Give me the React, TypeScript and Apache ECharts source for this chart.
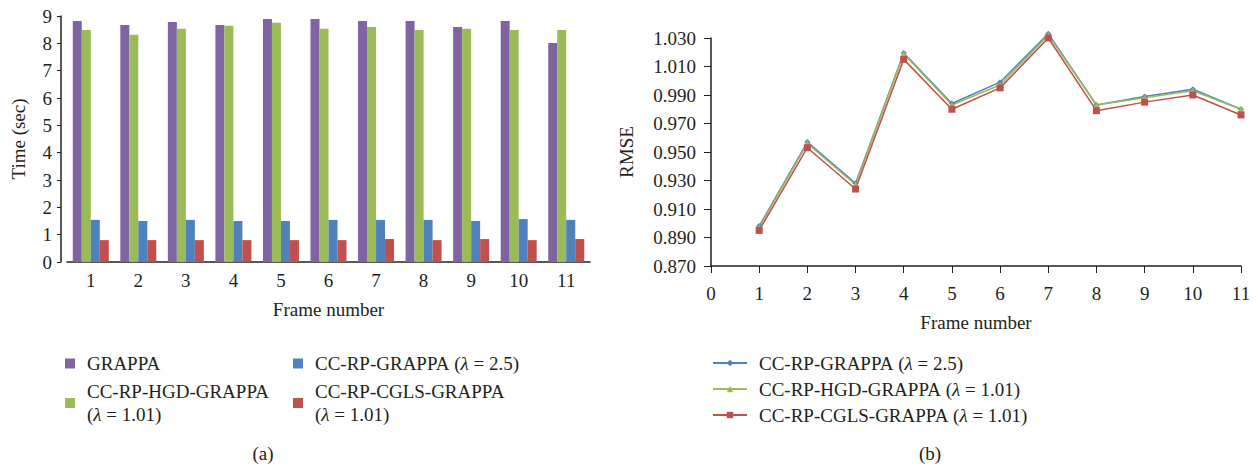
import React, { useEffect, useRef } from "react";
import * as echarts from "echarts";

const frames = ["1", "2", "3", "4", "5", "6", "7", "8", "9", "10", "11"];
const grappaTime = [8.82, 8.67, 8.78, 8.67, 8.89, 8.89, 8.82, 8.82, 8.6, 8.82, 8.01];
const hgdTime = [8.49, 8.31, 8.53, 8.64, 8.75, 8.53, 8.6, 8.49, 8.53, 8.49, 8.49];
const ccrpTime = [1.54, 1.5, 1.54, 1.5, 1.5, 1.54, 1.54, 1.54, 1.5, 1.57, 1.54];
const cglsTime = [0.8, 0.8, 0.8, 0.8, 0.8, 0.8, 0.84, 0.8, 0.84, 0.8, 0.84];

const frameNums = [1, 2, 3, 4, 5, 6, 7, 8, 9, 10, 11];
const rmseCcrp = [0.898, 0.957, 0.928, 1.0195, 0.984, 0.999, 1.033, 0.983, 0.989, 0.994, 0.98];
const rmseHgd = [0.897, 0.956, 0.927, 1.019, 0.983, 0.997, 1.032, 0.983, 0.988, 0.993, 0.98];
const rmseCgls = [0.895, 0.953, 0.924, 1.015, 0.98, 0.995, 1.03, 0.979, 0.985, 0.99, 0.976];

const N_GRAPPA = "GRAPPA";
const N_HGD = "CC-RP-HGD-GRAPPA (λ = 1.01)";
const N_CCRP = "CC-RP-GRAPPA (λ = 2.5)";
const N_CGLS = "CC-RP-CGLS-GRAPPA (λ = 1.01)";

const C_PURPLE = "#8064A2";
const C_GREEN = "#9BBB59";
const C_BLUE = "#4F81BD";
const C_RED = "#C0504D";

const FONT = "Liberation Serif";
const INK = "#231f20";
const FS = 19;

const txt = { fontFamily: FONT, fontSize: FS, color: INK };

// turn a legend name into rich text with an italic lambda, optionally wrapped before "("
const richName = (name: string, wrap: boolean) => {
  const idx = name.indexOf(" (");
  if (idx < 0) return `{n|${name}}`;
  const head = name.slice(0, idx);
  const tail = name.slice(idx + 1); // "(λ = x)"
  const parts = tail.split("λ");
  const tailRich = `{n|${parts[0]}}{i|λ}{n|${parts[1]}}`;
  return wrap ? `{n|${head}}\n${tailRich}` : `{n|${head} }${tailRich}`;
};

const richStyles = (lh: number) => ({
  n: { fontFamily: FONT, fontSize: FS, color: INK, lineHeight: lh },
  i: { fontFamily: FONT, fontSize: FS, color: INK, lineHeight: lh, fontStyle: "italic" },
});

export default function App() {
  const leftRef = useRef<HTMLDivElement>(null);
  const rightRef = useRef<HTMLDivElement>(null);

  useEffect(() => {
    const l = echarts.init(leftRef.current as HTMLDivElement, null, { renderer: "svg" });
    const r = echarts.init(rightRef.current as HTMLDivElement, null, { renderer: "svg" });

    const legendCommon = {
      icon: "rect",
      itemWidth: 10,
      itemHeight: 10,
      itemGap: 0,
      padding: 0,
      selectedMode: false,
      textStyle: { ...txt, lineHeight: 23, padding: [0, 0, 0, 7], rich: richStyles(23) },
    };

    l.setOption({
      animation: false,
      textStyle: { fontFamily: FONT },
      grid: { left: 67, top: 16, width: 523, height: 246 },
      xAxis: {
        type: "category",
        data: frames,
        axisLine: { lineStyle: { color: INK, width: 1.5 } },
        axisTick: { show: false },
        axisLabel: { ...txt, margin: 9 },
        name: "Frame number",
        nameLocation: "middle",
        nameGap: 38,
        nameTextStyle: txt,
      },
      yAxis: {
        type: "value",
        min: 0,
        max: 9,
        interval: 1,
        offset: 6,
        axisLine: { show: true, lineStyle: { color: INK, width: 1.5 } },
        axisTick: { show: true, length: 4, lineStyle: { color: INK } },
        splitLine: { show: false },
        axisLabel: { ...txt, margin: 9 },
        name: "Time (sec)",
        nameLocation: "middle",
        nameGap: 33,
        nameTextStyle: txt,
      },
      legend: [
        { ...legendCommon, data: [N_GRAPPA], left: 65, top: 352, formatter: (n: string) => richName(n, false) },
        { ...legendCommon, data: [N_HGD], left: 65, top: 380, formatter: (n: string) => richName(n, true) },
        { ...legendCommon, data: [N_CCRP], left: 293, top: 352, formatter: (n: string) => richName(n, false) },
        { ...legendCommon, data: [N_CGLS], left: 293, top: 380, formatter: (n: string) => richName(n, true) },
      ],
      graphic: [
        {
          type: "text",
          x: 263,
          y: 453,
          style: { text: "(a)", align: "center", verticalAlign: "middle", font: `${FS}px "${FONT}"`, fill: INK },
        },
      ],
      series: [
        { name: N_GRAPPA, type: "bar", data: grappaTime, barWidth: 9, barGap: "0%", itemStyle: { color: C_PURPLE } },
        { name: N_HGD, type: "bar", data: hgdTime, barWidth: 9, barGap: "0%", itemStyle: { color: C_GREEN } },
        { name: N_CCRP, type: "bar", data: ccrpTime, barWidth: 9, barGap: "0%", itemStyle: { color: C_BLUE } },
        { name: N_CGLS, type: "bar", data: cglsTime, barWidth: 9, barGap: "0%", itemStyle: { color: C_RED } },
      ],
    });

    const pts = (vals: number[]) => frameNums.map((f, i) => [f, vals[i]]);

    r.setOption({
      animation: false,
      textStyle: { fontFamily: FONT },
      grid: { left: 111, top: 38, width: 530, height: 228 },
      xAxis: {
        type: "value",
        min: 0,
        max: 11,
        interval: 1,
        axisLine: { lineStyle: { color: INK, width: 1.5 } },
        axisTick: { show: true, length: 7, lineStyle: { color: INK } },
        splitLine: { show: false },
        axisLabel: { ...txt, margin: 18 },
        name: "Frame number",
        nameLocation: "middle",
        nameGap: 47,
        nameTextStyle: txt,
      },
      yAxis: {
        type: "value",
        min: 0.87,
        max: 1.03,
        interval: 0.02,
        axisLine: { show: true, lineStyle: { color: INK, width: 1.5 } },
        axisTick: { show: true, length: 7, lineStyle: { color: INK } },
        splitLine: { show: false },
        axisLabel: { ...txt, margin: 15, formatter: (v: number) => v.toFixed(3) },
        name: "RMSE",
        nameLocation: "middle",
        nameGap: 75,
        nameTextStyle: txt,
      },
      legend: {
        data: [N_CCRP, N_HGD, N_CGLS],
        orient: "vertical",
        left: 112,
        top: 353,
        itemWidth: 34,
        itemHeight: 8,
        itemGap: 6,
        padding: 0,
        selectedMode: false,
        formatter: (n: string) => richName(n, false),
        textStyle: { ...txt, lineHeight: 20, padding: [0, 0, 0, 7], rich: richStyles(20) },
      },
      graphic: [
        {
          type: "text",
          x: 330,
          y: 453,
          style: { text: "(b)", align: "center", verticalAlign: "middle", font: `${FS}px "${FONT}"`, fill: INK },
        },
      ],
      series: [
        {
          name: N_CCRP,
          type: "line",
          data: pts(rmseCcrp),
          clip: false,
          symbol: "diamond",
          symbolSize: 6,
          lineStyle: { color: C_BLUE, width: 1.5 },
          itemStyle: { color: C_BLUE },
        },
        {
          name: N_HGD,
          type: "line",
          data: pts(rmseHgd),
          clip: false,
          symbol: "triangle",
          symbolSize: 7,
          lineStyle: { color: C_GREEN, width: 1.5 },
          itemStyle: { color: C_GREEN },
        },
        {
          name: N_CGLS,
          type: "line",
          data: pts(rmseCgls),
          clip: false,
          symbol: "rect",
          symbolSize: 7,
          lineStyle: { color: C_RED, width: 1.5 },
          itemStyle: { color: C_RED },
        },
      ],
    });

    return () => {
      l.dispose();
      r.dispose();
    };
  }, []);

  return (
    <div style={{ position: "fixed", left: 0, top: 0, width: 1258, height: 468, background: "#fff" }}>
      <div ref={leftRef} style={{ position: "absolute", left: 0, top: 0, width: 600, height: 468 }} />
      <div ref={rightRef} style={{ position: "absolute", left: 600, top: 0, width: 658, height: 468 }} />
    </div>
  );
}
